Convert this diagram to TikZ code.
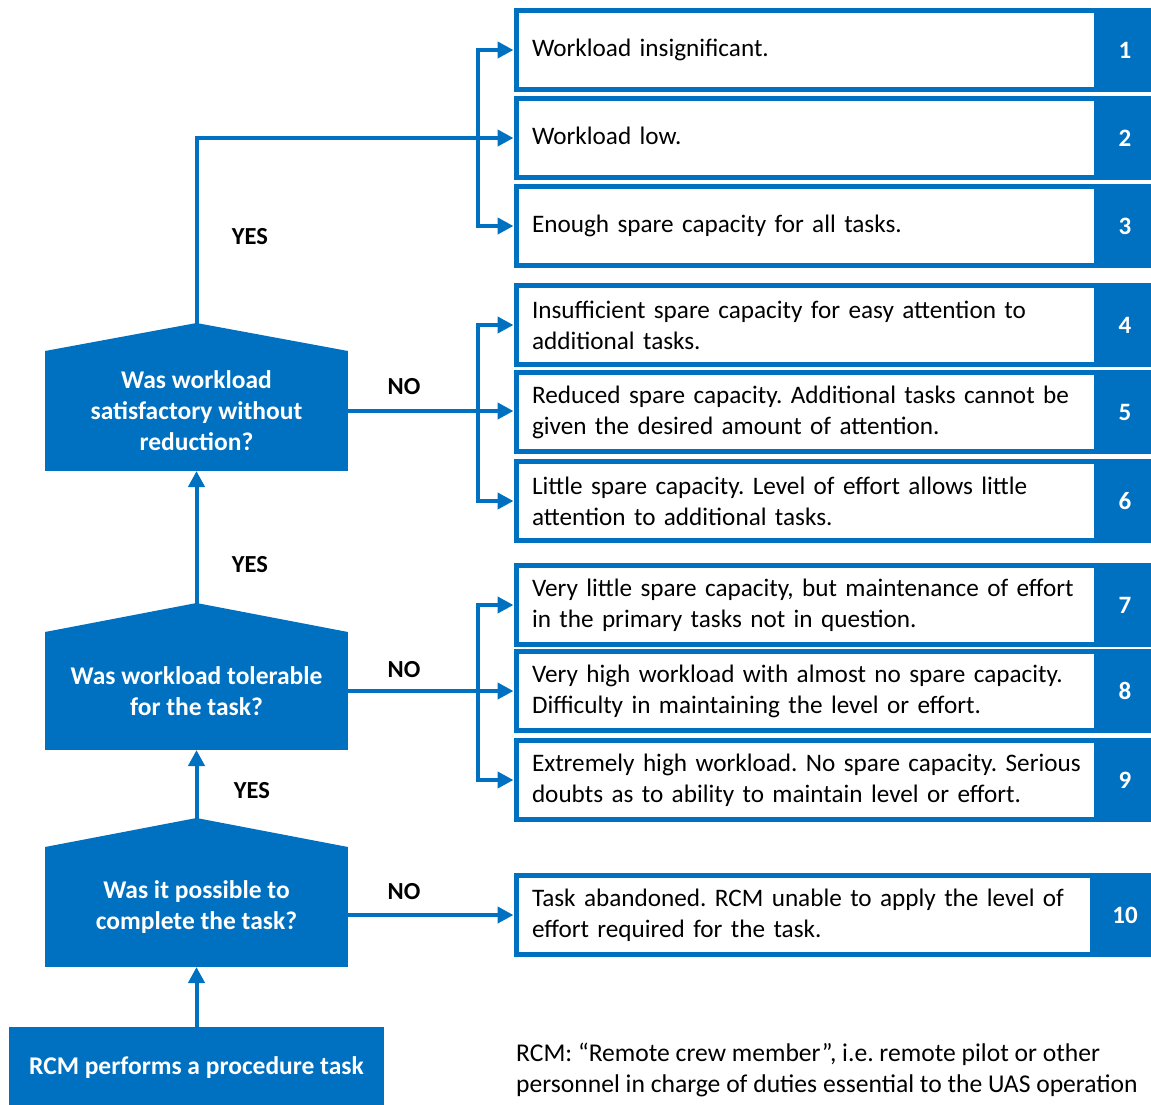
\documentclass[tikz,border=0pt]{standalone}
\usepackage{fontspec}
\setmainfont{Carlito}
\usetikzlibrary{arrows.meta,calc}
\definecolor{rcmblue}{RGB}{0,112,192}
\frenchspacing

\tikzset{
  optbox/.style={draw=rcmblue,line width=5pt,fill=white,minimum width=644pt,minimum height=79pt,
    text width=612pt,align=left,inner xsep=16pt,font=\fontsize{25.2}{31}\selectfont},
  numtab/.style={fill=rcmblue,minimum width=62pt,minimum height=84pt,outer sep=0pt,
    text=white,font=\fontsize{25}{28}\selectfont\bfseries},
  question/.style={fill=rcmblue,minimum width=303pt,minimum height=120pt,outer sep=0pt,
    text=white,align=center,font=\fontsize{25.5}{31}\selectfont\bfseries},
  answer/.style={font=\fontsize{24.5}{26}\selectfont\bfseries},
  flow/.style={draw=rcmblue,line width=4pt,-{Triangle[length=16pt,width=16pt]}},
  link/.style={draw=rcmblue,line width=4pt}
}

\begin{document}
\begin{tikzpicture}[x=1pt,y=-1pt]

\useasboundingbox (0,0) rectangle (1151,1104);

\node[optbox] (b1) at (838,50) {\strut Workload insignificant.};
\node[optbox] (b2) at (838,138) {\strut Workload low.};
\node[optbox] (b3) at (838,226) {\strut Enough spare capacity for all tasks.};
\node[optbox] (b4) at (838,325) {Insufficient spare capacity for easy attention to\\additional tasks.};
\node[optbox] (b5) at (838,412) {Reduced spare capacity. Additional tasks cannot be\\given the desired amount of attention.};
\node[optbox] (b6) at (838,501) {Little spare capacity. Level of effort allows little\\attention to additional tasks.};
\node[optbox] (b7) at (838,605) {Very little spare capacity, but maintenance of effort\\in the primary tasks not in question.};
\node[optbox] (b8) at (838,691) {Very high workload with almost no spare capacity.\\Difficulty in maintaining the level or effort.};
\node[optbox] (b9) at (838,780) {Extremely high workload. No spare capacity. Serious\\doubts as to ability to maintain level or effort.};
\node[optbox] (b10) at (838,915) {Task abandoned. RCM unable to apply the level of\\effort required for the task.};

\foreach \i/\y in {1/50,2/138,3/226,4/325,5/412,6/501,7/605,8/691,9/780}
  \node[numtab] (n\i) at (1125,\y) {\i};
\node[numtab,minimum width=70pt] (n10) at (1125,915) {10};

\node[question] (d1) at (196.5,411) {Was workload\\satisfactory without\\reduction?};
\node[question,minimum height=118pt] (d2) at (196.5,691) {Was workload tolerable\\for the task?};
\node[question] (d3) at (196.5,907) {Was it possible to\\complete the task?};
\foreach \d/\h in {d1/28,d2/29,d3/29} {
  \fill[rcmblue] (\d.north west) -- ([yshift=\h pt]\d.north) -- (\d.north east) -- cycle;
  \coordinate (\d peak) at ([yshift=\h pt]\d.north);
}

\node[fill=rcmblue,minimum width=375pt,minimum height=82pt,outer sep=0pt,text=white,
  font=\fontsize{25.5}{28}\selectfont\bfseries] (start) at (196.5,1068) {RCM performs a procedure task};

\coordinate (split) at (478,0);

\draw[flow] ([yshift=-6pt]d1peak) |- (b2.west);
\draw[flow] (b2.west -| split) |- (b1.west);
\draw[flow] (b2.west -| split) |- (b3.west);

\draw[flow] (d1.east) -- (d1.east -| b5.west);
\draw[flow] (d1.east -| split) |- (b4.west);
\draw[flow] (d1.east -| split) |- (b6.west);

\draw[flow] (d2.east) -- (d2.east -| b8.west);
\draw[flow] (d2.east -| split) |- (b7.west);
\draw[flow] (d2.east -| split) |- (b9.west);

\draw[flow] (b10.west -| d3.east) -- (b10.west);

\draw[flow] (start.north) -- (d3.south);
\draw[flow] ([yshift=-6pt]d3peak) -- (d2.south);
\draw[flow] ([yshift=-6pt]d2peak) -- (d1.south);

\node[answer] (yes1) at (250,237) {YES};
\node[answer] (yes2) at (250,565) {YES};
\node[answer] (yes3) at (252,791) {YES};
\node[answer] (no1) at (404,387) {NO};
\node[answer] (no2) at (404,670) {NO};
\node[answer] (no3) at (404,892) {NO};

\node[anchor=west,align=left,inner sep=0pt,font=\fontsize{25.6}{31}\selectfont] (note) at (516,1070)
  {RCM: “Remote crew member”, i.e. remote pilot or other\\personnel in charge of duties essential to the UAS operation};

\end{tikzpicture}
\end{document}
